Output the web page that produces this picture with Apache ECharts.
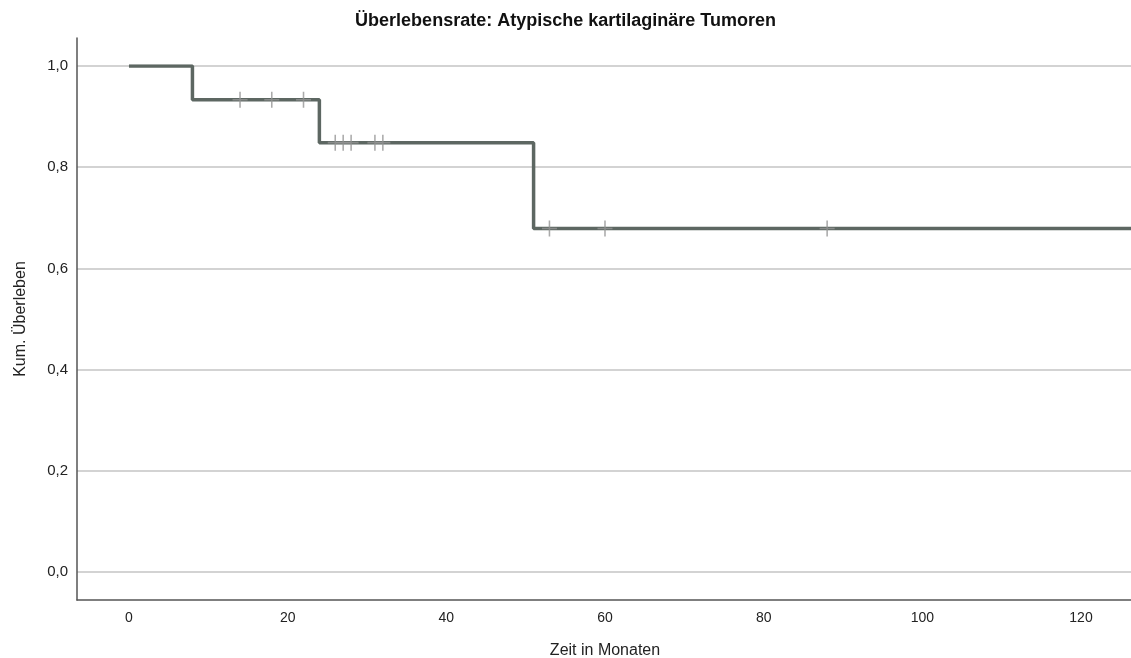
<!DOCTYPE html>
<html><head><meta charset="utf-8">
<script src="https://cdn.jsdelivr.net/npm/echarts@6/dist/echarts.min.js"></script>
<style>html,body{margin:0;padding:0;background:#fff}#c{width:1131px;height:658px}</style>
</head><body><div id="c"></div>
<script>
const stepTimes = [0, 8, 24, 51, 130];
const stepSurvival = [1.0, 0.9333, 0.8485, 0.6788, 0.6788];
const censorTimes = [14, 18, 22, 26, 27, 28, 31, 32, 53, 60, 88];
const censorSurvival = [0.9333, 0.9333, 0.9333, 0.8485, 0.8485, 0.8485, 0.8485, 0.8485, 0.6788, 0.6788, 0.6788];
const xTicks = [0, 20, 40, 60, 80, 100, 120];
const yTicks = [0, 0.2, 0.4, 0.6, 0.8, 1.0];

const font = '"Liberation Sans", Arial, Helvetica, sans-serif';
const chart = echarts.init(document.getElementById('c'), null, {renderer: 'canvas'});
const XMIN = -6.55, XMAX = 126.3;
chart.setOption({
  animation: false,
  backgroundColor: '#fff',
  title: {
    text: 'Überlebensrate: Atypische kartilaginäre Tumoren',
    left: 'center', top: 7,
    textStyle: {fontFamily: font, fontSize: 18, fontWeight: 'bold', color: '#111'}
  },
  grid: [
    {left: 77, right: 0, top: 38, bottom: 58, outerBoundsMode: 'none', containLabel: false},
    {left: 129, right: 50, top: 38, bottom: 58, outerBoundsMode: 'none', containLabel: false},
    {left: 77, right: 0, top: 66, bottom: 86, outerBoundsMode: 'none', containLabel: false}
  ],
  xAxis: [
    {gridIndex: 0, type: 'value', min: XMIN, max: XMAX,
     axisLine: {show: true, onZero: false, lineStyle: {color: '#555', width: 1.5}},
     axisTick: {show: false}, axisLabel: {show: false}, splitLine: {show: false}},
    {gridIndex: 1, type: 'value', min: xTicks[0], max: xTicks[xTicks.length-1], interval: 20,
     axisLine: {show: false}, axisTick: {show: false}, splitLine: {show: false},
     axisLabel: {show: true, margin: 11, color: '#222', fontFamily: font, fontSize: 14},
     name: 'Zeit in Monaten', nameLocation: 'middle', nameGap: 43,
     nameTextStyle: {fontFamily: font, fontSize: 16, color: '#222'}},
    {gridIndex: 2, type: 'value', min: XMIN, max: XMAX, show: false}
  ],
  yAxis: [
    {gridIndex: 0, type: 'value', min: -0.055, max: 1.055,
     axisLine: {show: true, onZero: false, lineStyle: {color: '#555', width: 1.5}},
     axisTick: {show: false}, axisLabel: {show: false}, splitLine: {show: false}},
    {gridIndex: 1, type: 'value', show: false},
    {gridIndex: 2, type: 'value', min: yTicks[0], max: yTicks[yTicks.length-1], interval: 0.2,
     axisLine: {show: false}, axisTick: {show: false},
     splitLine: {show: true, lineStyle: {color: '#c4c4c4', width: 1.5}},
     axisLabel: {show: true, margin: 9, color: '#222', fontFamily: font, fontSize: 15,
       formatter: v => v.toFixed(1).replace('.', ',')},
     name: 'Kum. Überleben', nameLocation: 'middle', nameGap: 48, nameRotate: 90,
     nameTextStyle: {fontFamily: font, fontSize: 16, color: '#222'}}
  ],
  series: [
    {type: 'line', xAxisIndex: 2, yAxisIndex: 2, step: 'end', symbol: 'none',
     lineStyle: {color: '#5d6762', width: 3.5},
     data: stepTimes.map((t, i) => [t, stepSurvival[i]]), z: 2},
    {type: 'scatter', xAxisIndex: 2, yAxisIndex: 2,
     symbol: 'path://M8,0L8,16M0,8L16,8', symbolSize: [15, 16],
     itemStyle: {color: 'none', borderColor: '#959595', borderWidth: 1.6},
     data: censorTimes.map((t, i) => [t, censorSurvival[i]]), z: 3}
  ]
});
</script></body></html>
